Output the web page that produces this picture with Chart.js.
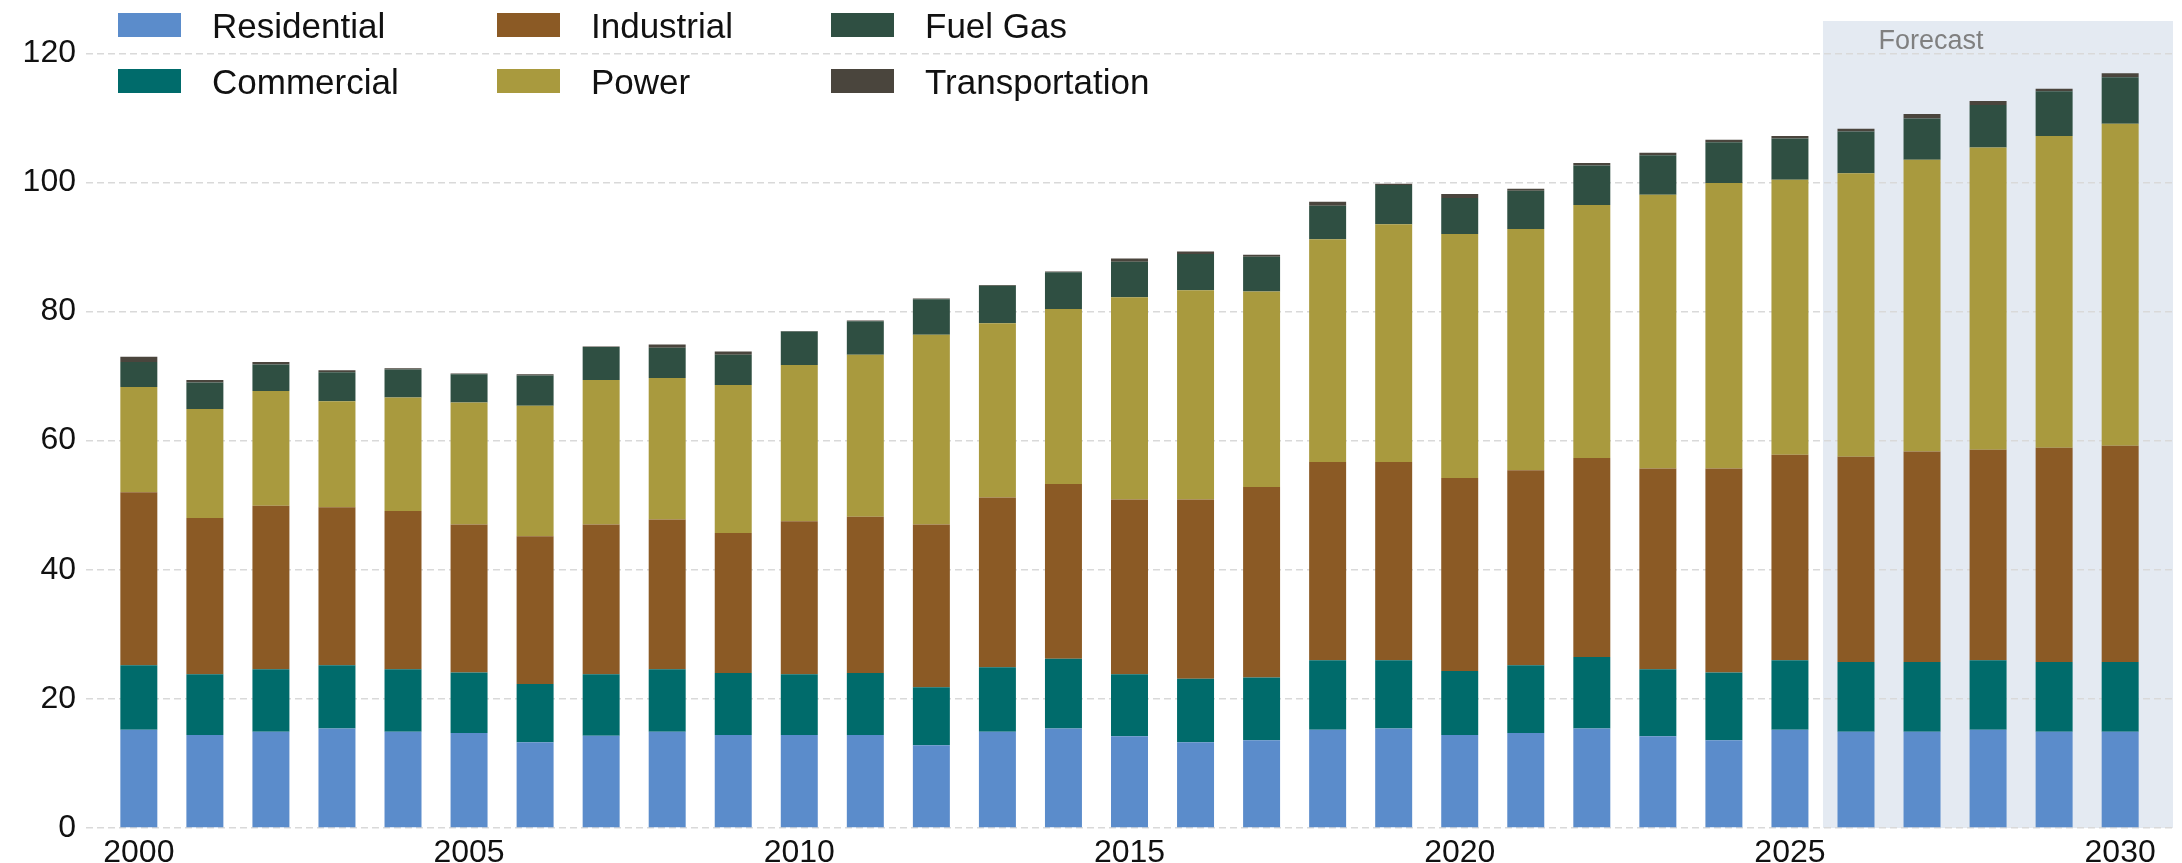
<!DOCTYPE html>
<html>
<head>
<meta charset="utf-8">
<title>Gas demand by sector</title>
<script src="https://cdn.jsdelivr.net/npm/chart.js@4.4.1/dist/chart.umd.min.js"></script>
<style>
html, body { margin: 0; padding: 0; background: #fff; }
#wrap { width: 2182px; height: 863px; position: relative; }
</style>
</head>
<body>
<div id="wrap"><canvas id="chart"></canvas></div>
<script>
// values
const years = [2000, 2001, 2002, 2003, 2004, 2005, 2006, 2007, 2008, 2009,
               2010, 2011, 2012, 2013, 2014, 2015, 2016, 2017, 2018, 2019,
               2020, 2021, 2022, 2023, 2024, 2025, 2026, 2027, 2028, 2029, 2030];

const residential = [15.2, 14.4, 14.9, 15.4, 14.9, 14.7, 13.3, 14.3, 14.9, 14.4,
                     14.4, 14.4, 12.8, 14.9, 15.4, 14.2, 13.3, 13.6, 15.2, 15.4,
                     14.4, 14.7, 15.4, 14.2, 13.6, 15.2, 14.9, 14.9, 15.2, 14.9, 14.9];
const commercial = [10.0, 9.4, 9.7, 9.8, 9.7, 9.4, 9.0, 9.5, 9.7, 9.6,
                    9.4, 9.6, 9.0, 10.0, 10.8, 9.6, 9.8, 9.7, 10.8, 10.6,
                    9.9, 10.5, 11.1, 10.4, 10.5, 10.8, 10.8, 10.8, 10.8, 10.8, 10.8];
const industrial = [26.8, 24.2, 25.3, 24.5, 24.5, 22.9, 22.9, 23.2, 23.2, 21.7,
                    23.7, 24.2, 25.2, 26.3, 27.1, 27.1, 27.8, 29.5, 30.7, 30.7,
                    29.9, 30.2, 30.8, 31.1, 31.6, 31.8, 31.8, 32.6, 32.6, 33.2, 33.5];
const power = [16.3, 16.9, 17.8, 16.4, 17.6, 18.9, 20.2, 22.4, 21.9, 22.9,
               24.2, 25.1, 29.4, 27.0, 27.1, 31.3, 32.4, 30.3, 34.5, 36.8,
               37.8, 37.4, 39.2, 42.4, 44.2, 42.6, 43.9, 45.2, 46.8, 48.3, 49.9];
const fuelGas = [3.9, 4.1, 4.1, 4.5, 4.3, 4.4, 4.7, 5.1, 4.7, 4.7,
                 5.2, 5.2, 5.5, 5.8, 5.7, 5.5, 5.6, 5.4, 5.2, 6.1,
                 5.6, 5.9, 6.1, 6.1, 6.3, 6.4, 6.5, 6.4, 6.6, 6.9, 7.2];
const transportation = [0.8, 0.4, 0.4, 0.3, 0.2, 0.1, 0.2, 0.1, 0.5, 0.5,
                        0.1, 0.1, 0.1, 0.1, 0.1, 0.5, 0.4, 0.3, 0.6, 0.2,
                        0.6, 0.3, 0.4, 0.4, 0.4, 0.4, 0.4, 0.7, 0.6, 0.4, 0.6];

const seriesNames = ["Residential", "Commercial", "Industrial", "Power", "Fuel Gas", "Transportation"];
const seriesValues = [residential, commercial, industrial, power, fuelGas, transportation];
const seriesColors = ["#5b8ccb", "#006b6b", "#8b5a25", "#a99a3e", "#2f4f42", "#4a453d"];

const xTickStep = 5;
const yTicks = [0, 20, 40, 60, 80, 100, 120];
const forecastStart = 2025.5;
const forecastLabel = "Forecast";

const fontFamily = "'Liberation Sans', Arial, sans-serif";

const datasets = seriesNames.map(function (name, s) {
    return {
        label: name,
        data: years.map(function (yr, i) { return { x: yr, y: seriesValues[s][i] }; }),
        backgroundColor: seriesColors[s],
        borderWidth: 0,
        categoryPercentage: 1.0,
        barPercentage: 0.56
    };
});

// light band behind the forecast years, drawn under the grid
const forecastBand = {
    id: "forecastBand",
    beforeDraw(chart) {
        const { ctx, chartArea, scales } = chart;
        const x0 = scales.x.getPixelForValue(forecastStart);
        ctx.save();
        ctx.fillStyle = "#e4eaf2";
        ctx.fillRect(x0, chartArea.top, chartArea.right - x0, chartArea.bottom - chartArea.top);
        ctx.fillStyle = "#808080";
        ctx.font = "27px " + fontFamily;
        ctx.textAlign = "left";
        ctx.textBaseline = "alphabetic";
        ctx.fillText(forecastLabel, scales.x.getPixelForValue(forecastStart + 0.84), 49);
        ctx.restore();
    }
};

// legend: 3 columns, filled column by column
const columnLegend = {
    id: "columnLegend",
    afterDraw(chart) {
        const ctx = chart.ctx;
        const colX = [118, 497, 831];
        const rowY = [25, 81];
        ctx.save();
        ctx.font = "35px " + fontFamily;
        ctx.textBaseline = "middle";
        ctx.textAlign = "left";
        chart.data.datasets.forEach(function (ds, i) {
            const x = colX[Math.floor(i / 2)];
            const y = rowY[i % 2];
            ctx.fillStyle = ds.backgroundColor;
            ctx.fillRect(x, y - 12, 63, 24);
            ctx.fillStyle = "#111";
            ctx.fillText(ds.label, x + 94, y + 3);
        });
        ctx.restore();
    }
};

new Chart(document.getElementById("chart"), {
    type: "bar",
    data: { datasets: datasets },
    options: {
        responsive: true,
        maintainAspectRatio: false,
        animation: false,
        layout: { padding: { top: 21, right: 9, left: 0, bottom: 0 } },
        plugins: {
            legend: { display: false },
            tooltip: { enabled: false }
        },
        scales: {
            x: {
                type: "linear",
                stacked: true,
                offset: false,
                min: 1999.2,
                max: 2030.8,
                afterFit: function (scale) {
                    scale.height = 35;
                    scale.paddingLeft = 0;
                    scale.paddingRight = 0;
                },
                grid: { display: false, offset: false },
                border: { display: false },
                ticks: {
                    stepSize: xTickStep,
                    includeBounds: false,
                    padding: 1,
                    color: "#111",
                    font: { family: fontFamily, size: 32, lineHeight: 1 },
                    callback: function (v) { return String(v); }
                }
            },
            y: {
                stacked: true,
                min: 0,
                max: 125,
                afterFit: function (scale) {
                    scale.width = 86;
                    scale.paddingTop = 0;
                    scale.paddingBottom = 0;
                },
                afterBuildTicks: function (scale) {
                    scale.ticks = yTicks.map(function (v) { return { value: v }; });
                },
                grid: { color: "#d9d9d9", lineWidth: 1.4, drawTicks: false, borderDash: [7, 4] },
                border: { display: false, dash: [7, 4] },
                ticks: {
                    padding: 10,
                    color: "#111",
                    font: { family: fontFamily, size: 32, lineHeight: 1 }
                }
            }
        }
    },
    plugins: [forecastBand, columnLegend]
});
</script>
</body>
</html>
